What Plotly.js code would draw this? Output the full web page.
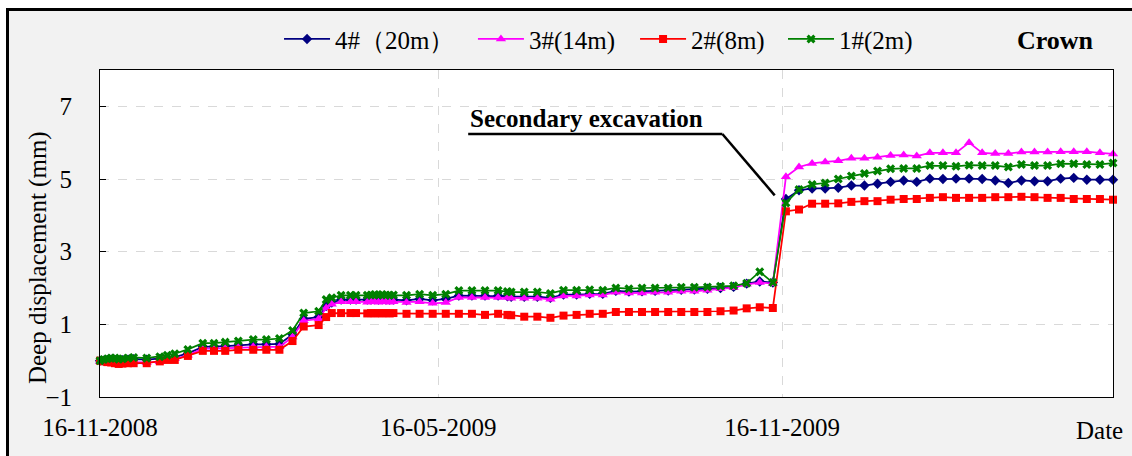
<!DOCTYPE html>
<html>
<head>
<meta charset="utf-8">
<script src="https://cdn.plot.ly/plotly-3.0.1.min.js"></script>
<style>
  html, body { margin: 0; padding: 0; background: #ffffff; }
  body { width: 1132px; height: 456px; overflow: hidden; position: relative; }
  #frame {
    position: absolute; left: 6px; top: 8px; width: 1140px; height: 470px;
    border: 3px solid #000; background: #f2f2f2;
  }
  #chart { position: absolute; left: 0; top: 0; width: 1132px; height: 456px; }
</style>
</head>
<body>
<div id="frame"></div>
<div id="chart"></div>
<script>
// Measurement dates
const dates = [
  '2008-11-16','2008-11-18','2008-11-20','2008-11-22','2008-11-24','2008-11-26','2008-11-28','2008-12-01','2008-12-04','2008-12-11',
  '2008-12-18','2008-12-22','2008-12-26','2009-01-02','2009-01-10','2009-01-16','2009-01-22','2009-01-29','2009-02-06','2009-02-13',
  '2009-02-20','2009-02-27','2009-03-05','2009-03-13','2009-03-17','2009-03-20','2009-03-25','2009-03-30','2009-04-02','2009-04-08',
  '2009-04-10','2009-04-12','2009-04-14','2009-04-16','2009-04-18','2009-04-20','2009-04-22','2009-04-29','2009-05-06','2009-05-13',
  '2009-05-20','2009-05-27','2009-06-03','2009-06-10','2009-06-17','2009-06-22','2009-06-24','2009-07-01','2009-07-08','2009-07-15',
  '2009-07-22','2009-07-29','2009-08-05','2009-08-12','2009-08-19','2009-08-26','2009-09-02','2009-09-09','2009-09-16','2009-09-23',
  '2009-09-30','2009-10-07','2009-10-14','2009-10-21','2009-10-28','2009-11-04','2009-11-11','2009-11-18','2009-11-25','2009-12-02',
  '2009-12-09','2009-12-16','2009-12-23','2009-12-30','2010-01-06','2010-01-13','2010-01-20','2010-01-27','2010-02-03','2010-02-10',
  '2010-02-17','2010-02-24','2010-03-03','2010-03-10','2010-03-17','2010-03-24','2010-03-31','2010-04-07','2010-04-14','2010-04-21',
  '2010-04-28','2010-05-05','2010-05-12'
];

// Deep displacement (mm) per anchor depth
const disp4 = [
  0.00, 0.00, 0.02, 0.03, 0.02, 0.00, 0.01, 0.03, 0.04, 0.03,
  0.05, 0.08, 0.10, 0.20, 0.38, 0.38, 0.40, 0.42, 0.45, 0.45,
  0.46, 0.72, 1.15, 1.20, 1.50, 1.60, 1.68, 1.68, 1.68, 1.68,
  1.68, 1.69, 1.68, 1.69, 1.68, 1.68, 1.68, 1.66, 1.70, 1.66,
  1.70, 1.79, 1.79, 1.79, 1.79, 1.77, 1.76, 1.76, 1.76, 1.73,
  1.82, 1.82, 1.84, 1.84, 1.92, 1.90, 1.91, 1.92, 1.93, 1.95,
  1.96, 1.98, 2.00, 2.03, 2.12, 2.18, 2.15, 4.45, 4.69, 4.74,
  4.74, 4.76, 4.82, 4.82, 4.87, 4.92, 4.96, 4.92, 5.01, 5.00,
  5.01, 5.01, 5.00, 4.96, 4.89, 4.96, 4.94, 4.94, 5.01, 5.03,
  4.98, 4.98, 4.98
];
const disp3 = [
  -0.02, -0.03, -0.04, -0.05, -0.05, -0.06, -0.06, -0.05, -0.04, -0.05,
  -0.03, 0.02, 0.05, 0.15, 0.33, 0.33, 0.34, 0.36, 0.38, 0.38,
  0.38, 0.65, 1.10, 1.15, 1.45, 1.55, 1.62, 1.62, 1.62, 1.61,
  1.62, 1.62, 1.61, 1.62, 1.62, 1.61, 1.62, 1.60, 1.62, 1.58,
  1.60, 1.74, 1.74, 1.74, 1.74, 1.74, 1.72, 1.72, 1.72, 1.69,
  1.78, 1.78, 1.81, 1.81, 1.88, 1.86, 1.86, 1.88, 1.88, 1.91,
  1.91, 1.94, 1.98, 2.01, 2.10, 2.15, 2.12, 5.06, 5.33, 5.43,
  5.47, 5.50, 5.57, 5.57, 5.60, 5.65, 5.66, 5.63, 5.72, 5.72,
  5.72, 6.00, 5.72, 5.70, 5.70, 5.74, 5.74, 5.74, 5.75, 5.75,
  5.75, 5.72, 5.69
];
const disp2 = [
  0.00, -0.02, -0.04, -0.05, -0.07, -0.09, -0.08, -0.07, -0.07, -0.07,
  -0.02, 0.02, 0.02, 0.13, 0.27, 0.27, 0.27, 0.30, 0.30, 0.30,
  0.30, 0.54, 0.94, 0.98, 1.20, 1.31, 1.31, 1.31, 1.31, 1.30,
  1.31, 1.30, 1.31, 1.30, 1.31, 1.30, 1.31, 1.29, 1.29, 1.29,
  1.29, 1.29, 1.29, 1.26, 1.29, 1.26, 1.25, 1.21, 1.21, 1.18,
  1.24, 1.26, 1.29, 1.29, 1.34, 1.34, 1.34, 1.34, 1.34, 1.34,
  1.34, 1.34, 1.36, 1.38, 1.44, 1.47, 1.45, 4.11, 4.16, 4.32,
  4.32, 4.33, 4.37, 4.39, 4.39, 4.43, 4.45, 4.45, 4.48, 4.50,
  4.48, 4.48, 4.48, 4.50, 4.50, 4.51, 4.50, 4.48, 4.48, 4.45,
  4.45, 4.45, 4.43
];
const disp1 = [
  0.00, 0.03, 0.05, 0.07, 0.07, 0.04, 0.05, 0.07, 0.09, 0.07,
  0.11, 0.15, 0.19, 0.31, 0.48, 0.48, 0.51, 0.54, 0.58, 0.58,
  0.61, 0.83, 1.31, 1.36, 1.68, 1.73, 1.80, 1.80, 1.80, 1.80,
  1.81, 1.82, 1.81, 1.82, 1.81, 1.80, 1.81, 1.80, 1.83, 1.80,
  1.83, 1.93, 1.93, 1.93, 1.93, 1.90, 1.89, 1.89, 1.89, 1.85,
  1.94, 1.94, 1.95, 1.94, 2.00, 1.98, 2.00, 2.00, 2.00, 2.02,
  2.02, 2.03, 2.05, 2.06, 2.13, 2.45, 2.15, 4.34, 4.71, 4.85,
  4.89, 5.00, 5.08, 5.15, 5.22, 5.28, 5.29, 5.29, 5.37, 5.37,
  5.35, 5.38, 5.37, 5.37, 5.33, 5.40, 5.37, 5.37, 5.42, 5.42,
  5.40, 5.40, 5.44
];

const seriesNames = ['4#\uFF0820m\uFF09', '3#(14m)', '2#(8m)', '1#(2m)'];
const tickDates = ['2008-11-16', '2009-05-16', '2009-11-16'];
const tickLabels = ['16-11-2008', '16-05-2009', '16-11-2009'];
const yTicks = [-1, 1, 3, 5, 7];

const serif = '"Liberation Serif", "Times New Roman", serif';

function series(name, y, color, symbol, size, legendId) {
  return {
    type: 'scatter', mode: 'lines+markers', name: name, x: dates, y: y,
    line: {color: color, width: 1.75},
    marker: {color: color, symbol: symbol, size: size, line: {width: 0}},
    cliponaxis: false, legend: legendId
  };
}

const traces = [
  series(seriesNames[0], disp4, '#000080', 'diamond', 8, 'legend'),
  series(seriesNames[1], disp3, '#ff00ff', 'triangle-up', 9, 'legend2'),
  series(seriesNames[2], disp2, '#ff0000', 'square', 8, 'legend3'),
  series(seriesNames[3], disp1, '#008000', 'x', 8, 'legend4')
];

// one legend box per series, laid out in a row above the plot
function legendAt(x) {
  return {
    orientation: 'h', xref: 'container', yref: 'container',
    x: x, y: 0.914, xanchor: 'left', yanchor: 'middle',
    bgcolor: 'rgba(0,0,0,0)', font: {family: serif, size: 25},
    itemwidth: 46
  };
}

const layout = {
  width: 1132, height: 456,
  margin: {l: 100, r: 19, t: 70, b: 59},
  paper_bgcolor: 'rgba(0,0,0,0)',
  plot_bgcolor: '#ffffff',
  font: {family: serif, size: 25, color: '#000'},
  showlegend: true,
  legend: legendAt(0.2465),
  legend2: legendAt(0.4178),
  legend3: legendAt(0.5610),
  legend4: legendAt(0.6917),
  xaxis: {
    type: 'date',
    range: ['2008-11-16', '2010-05-12'],
    tickmode: 'array', tickvals: tickDates, ticktext: tickLabels,
    showgrid: true, gridcolor: '#d9d9d9', griddash: 'dash', gridwidth: 1,
    showline: true, linecolor: '#000', linewidth: 1, mirror: true,
    ticks: '', ticklabelstandoff: 8,
    tickfont: {family: serif, size: 25},
    zeroline: false
  },
  yaxis: {
    range: [-1, 8],
    tickmode: 'array', tickvals: yTicks,
    showgrid: true, gridcolor: '#d9d9d9', griddash: 'dash', gridwidth: 1,
    showline: true, linecolor: '#000', linewidth: 1, mirror: true,
    ticks: 'inside', ticklen: 6, tickcolor: '#000', ticklabelstandoff: 22,
    tickfont: {family: serif, size: 25},
    zeroline: false
  },
  annotations: [
    {text: 'Deep displacement (mm)', xref: 'paper', yref: 'paper',
     x: -0.0612, y: 0.425, xanchor: 'center', yanchor: 'middle',
     textangle: -90, showarrow: false, font: {family: serif, size: 25}},
    {text: 'Date', xref: 'paper', yref: 'paper', x: 0.987, y: -0.101,
     xanchor: 'center', yanchor: 'middle',
     showarrow: false, font: {family: serif, size: 25}},
    {text: '<b>Crown</b>', xref: 'paper', yref: 'paper', x: 0.9437, y: 1.0917,
     xanchor: 'center', yanchor: 'middle',
     showarrow: false, font: {family: serif, size: 26}},
    {text: '<b>Secondary excavation</b>', xref: 'x', yref: 'y',
     x: '2009-06-01', y: 6.67, xanchor: 'left', yanchor: 'middle',
     showarrow: false, font: {family: serif, size: 25}}
  ],
  shapes: [
    {type: 'line', xref: 'x', yref: 'y', x0: '2009-06-01', y0: 6.24, x1: '2009-10-15', y1: 6.24,
     line: {color: '#000', width: 2.5}},
    {type: 'line', xref: 'x', yref: 'y', x0: '2009-10-15', y0: 6.24, x1: '2009-11-12', y1: 4.55,
     line: {color: '#000', width: 2.5}}
  ]
};

Plotly.newPlot('chart', traces, layout, {displayModeBar: false, staticPlot: true});
</script>
</body>
</html>
